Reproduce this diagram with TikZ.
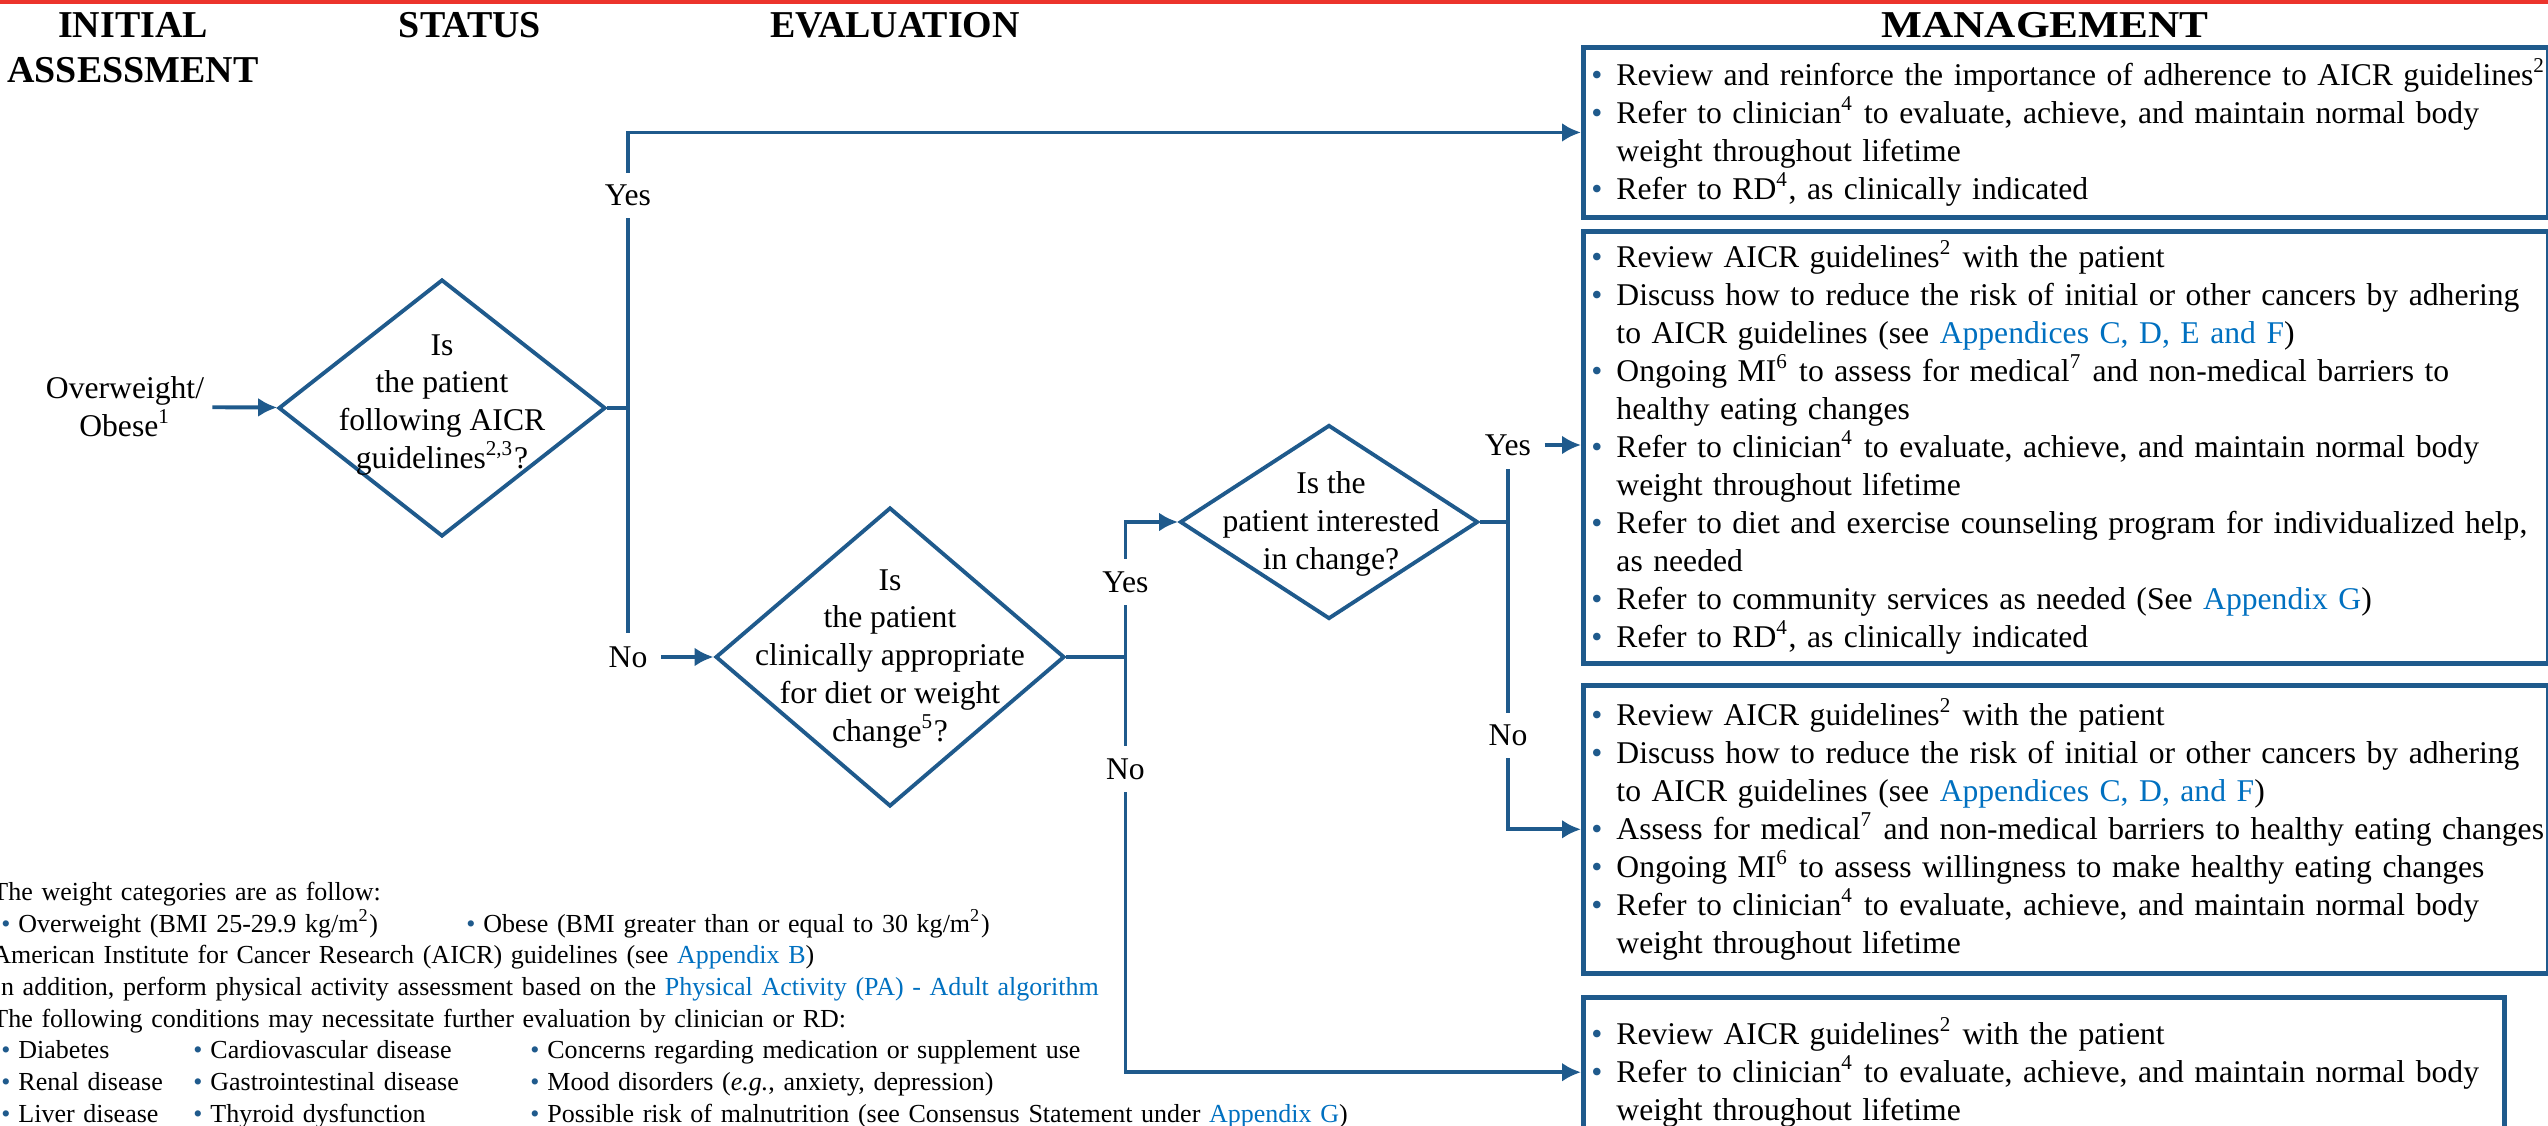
\documentclass[tikz,border=0pt]{standalone}
\usepackage{fontspec}
\setmainfont{Liberation Serif}
\usetikzlibrary{shapes, arrows.meta, positioning}
\definecolor{flowblue}{RGB}{31,90,140}
\definecolor{linkblue}{RGB}{0,112,192}
\definecolor{topred}{RGB}{236,52,44}
\newcommand{\bul}{\makebox[0.25cm][l]{\textcolor{flowblue}{\textbullet}}}
\newcommand{\fbul}{\makebox[0.17cm][l]{\textcolor{flowblue}{\textbullet}}}
\newcommand{\lnk}[1]{\textcolor{linkblue}{#1}}
\newcommand{\itm}[1]{\mbox{\bul #1}}
\newcommand{\contd}[1]{\mbox{\hspace*{0.25cm}#1}}

\begin{document}
\begin{tikzpicture}[>={Latex[length=0.19cm, width=0.19cm]}, thick,
  body/.style={font=\fontsize{9}{10.8}\selectfont},
  head/.style={font=\fontsize{10.8}{12.8}\selectfont\bfseries, inner sep=0pt, anchor=base},
  decision/.style={draw=flowblue, line width=1.1pt, diamond, inner sep=0pt},
  qtext/.style={body, align=center, inner sep=0pt},
  mbox/.style={draw=flowblue, line width=1.4pt, body, align=left, inner xsep=0.08cm, inner ysep=0pt, text width=9.49cm, anchor=north west},
  fnote/.style={font=\fontsize{7.4}{9.0}\selectfont, align=left, text width=15cm, inner sep=0pt, anchor=north west},
  lbl/.style={body, fill=white, inner sep=3.5pt},
  link/.style={draw=flowblue, line width=1.1pt}]
  \useasboundingbox (0,0) rectangle (25.48,-11.26);
  \draw[topred, line width=0.04cm] (0,-0.02) -- (25.48,-0.02);

  % Spaltenkoepfe
  \node[head] (init) at (1.33,-0.38) {INITIAL};
  \node[head] (assess) at (1.33,-0.83) {ASSESSMENT};
  \node[head] (status) at (4.70,-0.38) {STATUS};
  \node[head] (eval) at (8.95,-0.38) {EVALUATION};
  \node[head] (manage) at (20.45,-0.38) {\scalebox{1.14}[1]{MANAGEMENT}};

  % Entscheidungen
  \node[body, align=center, inner sep=2pt] (start) at (1.25,-4.07) {Overweight/\\Obese\textsuperscript{1}};
  \node[decision, minimum width=3.27cm, minimum height=2.57cm] (d1) at (4.42,-4.08) {};
  \node[decision, minimum width=3.49cm, minimum height=2.99cm, on grid, below right=2.49cm and 4.48cm of d1] (d2) {};
  \node[decision, minimum width=2.98cm, minimum height=1.94cm, on grid, above right=1.35cm and 4.39cm of d2] (d3) {};
  \node[qtext] (q1) at ([yshift=0.03cm]d1) {Is\\the patient\\following AICR\\guidelines\textsuperscript{2,3}?};
  \node[qtext] (q2) at ([yshift=-0.02cm]d2) {Is\\the patient\\clinically appropriate\\for diet or weight\\change\textsuperscript{5}?};
  \node[qtext] (q3) at ([xshift=0.02cm, yshift=-0.02cm]d3) {Is the\\patient interested\\in change?};

  % Massnahmen
  \node[mbox, minimum height=1.70cm] (box1) at (15.81,-0.45) {%
    \itm{Review and reinforce the importance of adherence to AICR guidelines\textsuperscript{2}}\\
    \itm{Refer to clinician\textsuperscript{4} to evaluate, achieve, and maintain normal body}\\
    \contd{weight throughout lifetime}\\
    \itm{Refer to RD\textsuperscript{4}, as clinically indicated}};
  \node[mbox, below=0.09cm of box1.south west, anchor=north west, minimum height=4.32cm] (box2) {%
    \itm{Review AICR guidelines\textsuperscript{2} with the patient}\\
    \itm{Discuss how to reduce the risk of initial or other cancers by adhering}\\
    \contd{to AICR guidelines (see \lnk{Appendices C, D, E and F})}\\
    \itm{Ongoing MI\textsuperscript{6} to assess for medical\textsuperscript{7} and non-medical barriers to}\\
    \contd{healthy eating changes}\\
    \itm{Refer to clinician\textsuperscript{4} to evaluate, achieve, and maintain normal body}\\
    \contd{weight throughout lifetime}\\
    \itm{Refer to diet and exercise counseling program for individualized help,}\\
    \contd{as needed}\\
    \itm{Refer to community services as needed (See \lnk{Appendix G})}\\
    \itm{Refer to RD\textsuperscript{4}, as clinically indicated}};
  \node[mbox, below=0.17cm of box2.south west, anchor=north west, minimum height=2.88cm] (box3) {%
    \itm{Review AICR guidelines\textsuperscript{2} with the patient}\\
    \itm{Discuss how to reduce the risk of initial or other cancers by adhering}\\
    \contd{to AICR guidelines (see \lnk{Appendices C, D, and F})}\\
    \itm{Assess for medical\textsuperscript{7} and non-medical barriers to healthy eating changes}\\
    \itm{Ongoing MI\textsuperscript{6} to assess willingness to make healthy eating changes}\\
    \itm{Refer to clinician\textsuperscript{4} to evaluate, achieve, and maintain normal body}\\
    \contd{weight throughout lifetime}};
  \node[mbox, below=0.19cm of box3.south west, anchor=north west, text width=9.05cm, minimum height=1.50cm] (box4) {%
    \itm{Review AICR guidelines\textsuperscript{2} with the patient}\\
    \itm{Refer to clinician\textsuperscript{4} to evaluate, achieve, and maintain normal body}\\
    \contd{weight throughout lifetime}};

  % Verbindungen
  \draw[link, ->] (start) -- (d1);
  \node[lbl] (no1) at (6.28,-6.57) {No};
  \draw[link, ->] (no1) |- node[lbl, pos=0.437] (yes1) {Yes} (box1.west);
  \draw[link] (d1.east) -- (d1.east -| no1);
  \draw[link, ->] (no1) -- (d2);
  \coordinate (j2) at ([xshift=0.59cm]d2.east);
  \draw[link] (d2.east) -- (j2);
  \draw[link, ->] (j2) |- node[lbl, pos=0.278] (yes2) {Yes} (d3.west);
  \draw[link, ->] (j2) |- node[lbl, pos=0.135] (no2) {No} (box4.west);
  \node[body, inner sep=3.5pt] (yes3) at (15.08,-4.45) {Yes};
  \draw[link, ->] (yes3) -- (yes3 -| box2.west);
  \draw[link, ->] (yes3) |- node[lbl, pos=0.37] (no3) {No} (box3.west);
  \draw[link] (d3.east) -- (d3.east -| yes3);

  % Fussnoten
  \node[fnote] (notes) at (-0.09,-8.81) {%
    The weight categories are as follow:\\
    \hspace*{0.09cm}\makebox[4.65cm][l]{\fbul Overweight (BMI 25-29.9 kg/m\textsuperscript{2})}\fbul Obese (BMI greater than or equal to 30 kg/m\textsuperscript{2})\\
    American Institute for Cancer Research (AICR) guidelines (see \lnk{Appendix B})\\
    In addition, perform physical activity assessment based on the \lnk{Physical Activity (PA) - Adult algorithm}\\
    The following conditions may necessitate further evaluation by clinician or RD:\\
    \hspace*{0.09cm}\makebox[1.92cm][l]{\fbul Diabetes}\makebox[3.37cm][l]{\fbul Cardiovascular disease}\fbul Concerns regarding medication or supplement use\\
    \hspace*{0.09cm}\makebox[1.92cm][l]{\fbul Renal disease}\makebox[3.37cm][l]{\fbul Gastrointestinal disease}\fbul Mood disorders (\textit{e.g.}, anxiety, depression)\\
    \hspace*{0.09cm}\makebox[1.92cm][l]{\fbul Liver disease}\makebox[3.37cm][l]{\fbul Thyroid dysfunction}\fbul Possible risk of malnutrition (see Consensus Statement under \lnk{Appendix G})};
\end{tikzpicture}
\end{document}
